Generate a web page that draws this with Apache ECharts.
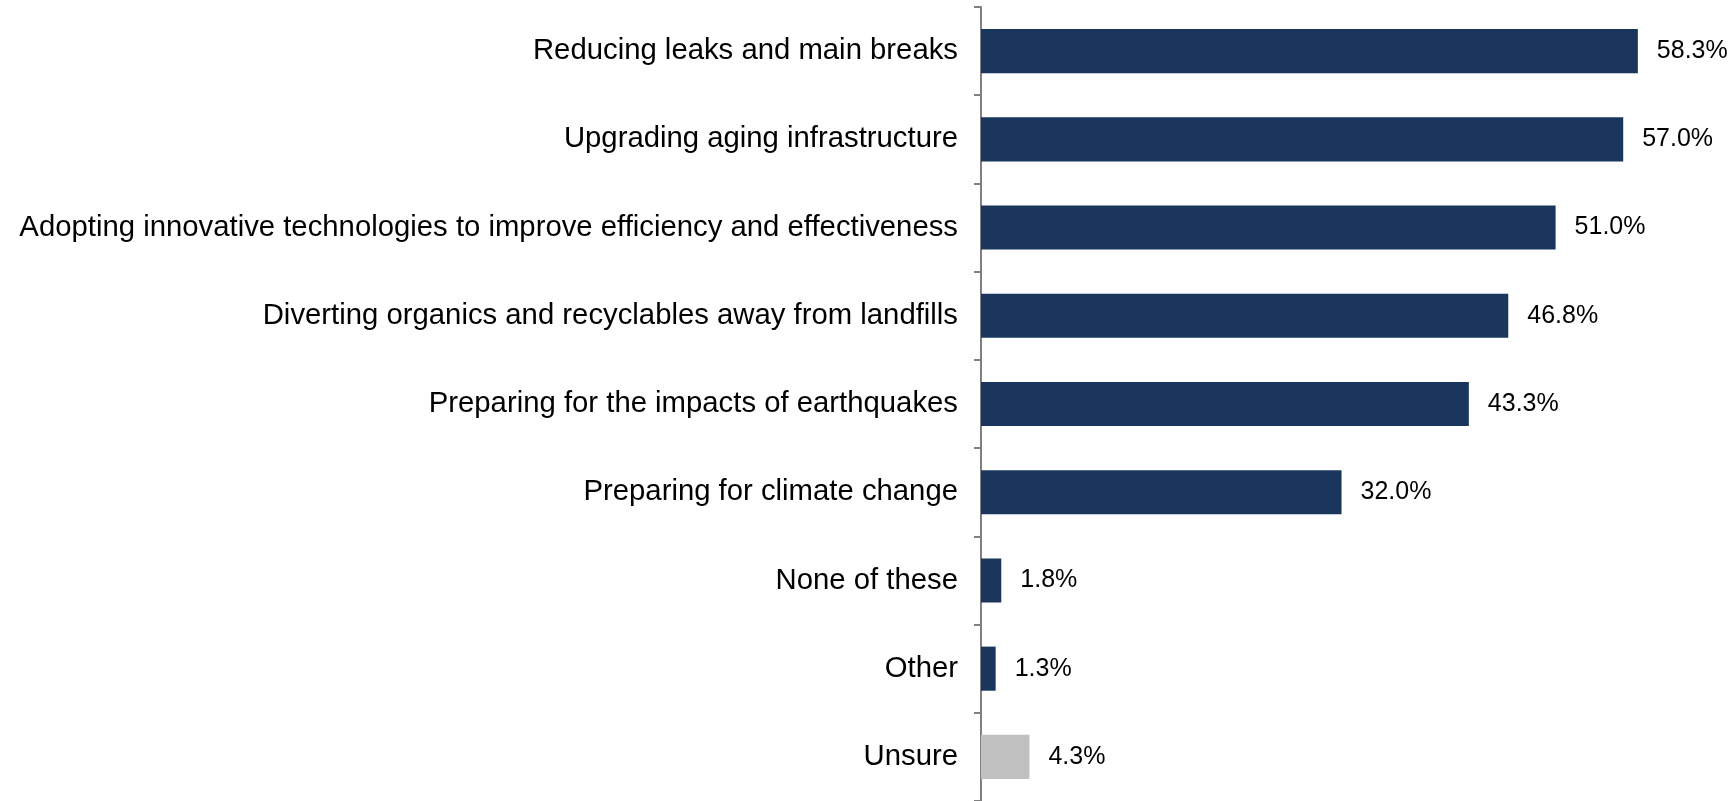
<!DOCTYPE html>
<html><head><meta charset="utf-8">
<script src="https://cdn.jsdelivr.net/npm/echarts@6/dist/echarts.min.js"></script>
<style>html,body{margin:0;padding:0;background:#fff}#c{width:1736px;height:801px}</style>
</head><body><div id="c"></div>
<script>
const categories = [
  "Reducing leaks and main breaks",
  "Upgrading aging infrastructure",
  "Adopting innovative technologies to improve efficiency and effectiveness",
  "Diverting organics and recyclables away from landfills",
  "Preparing for the impacts of earthquakes",
  "Preparing for climate change",
  "None of these",
  "Other",
  "Unsure"
];
const values = [58.3, 57.0, 51.0, 46.8, 43.3, 32.0, 1.8, 1.3, 4.3];
const barColors = ["#1a365d","#1a365d","#1a365d","#1a365d","#1a365d","#1a365d","#1a365d","#1a365d","#c0c0c0"];

const chart = echarts.init(document.getElementById('c'), null, {renderer:'canvas'});
chart.setOption({
  animation:false,
  grid:{left:981, top:7, width:676, height:795.4, containLabel:false},
  xAxis:{type:'value', min:0, max:60, show:false},
  yAxis:{
    type:'category', inverse:true, data:categories,
    axisLine:{show:true, lineStyle:{color:'#808080', width:2}},
    axisTick:{show:true, length:7, lineStyle:{color:'#808080', width:2}},
    axisLabel:{margin:23, fontSize:29.3, color:'#000', fontFamily:'Liberation Sans, Arial, sans-serif'}
  },
  series:[{
    type:'bar', barCategoryGap:'50%',
    data: values.map((v,i)=>({value:v, itemStyle:{color:barColors[i]}})),
    label:{show:true, position:'right', distance:19, fontSize:25, color:'#000',
      fontFamily:'Liberation Sans, Arial, sans-serif',
      formatter:p=>p.value.toFixed(1)+'%'}
  }]
});
</script></body></html>
